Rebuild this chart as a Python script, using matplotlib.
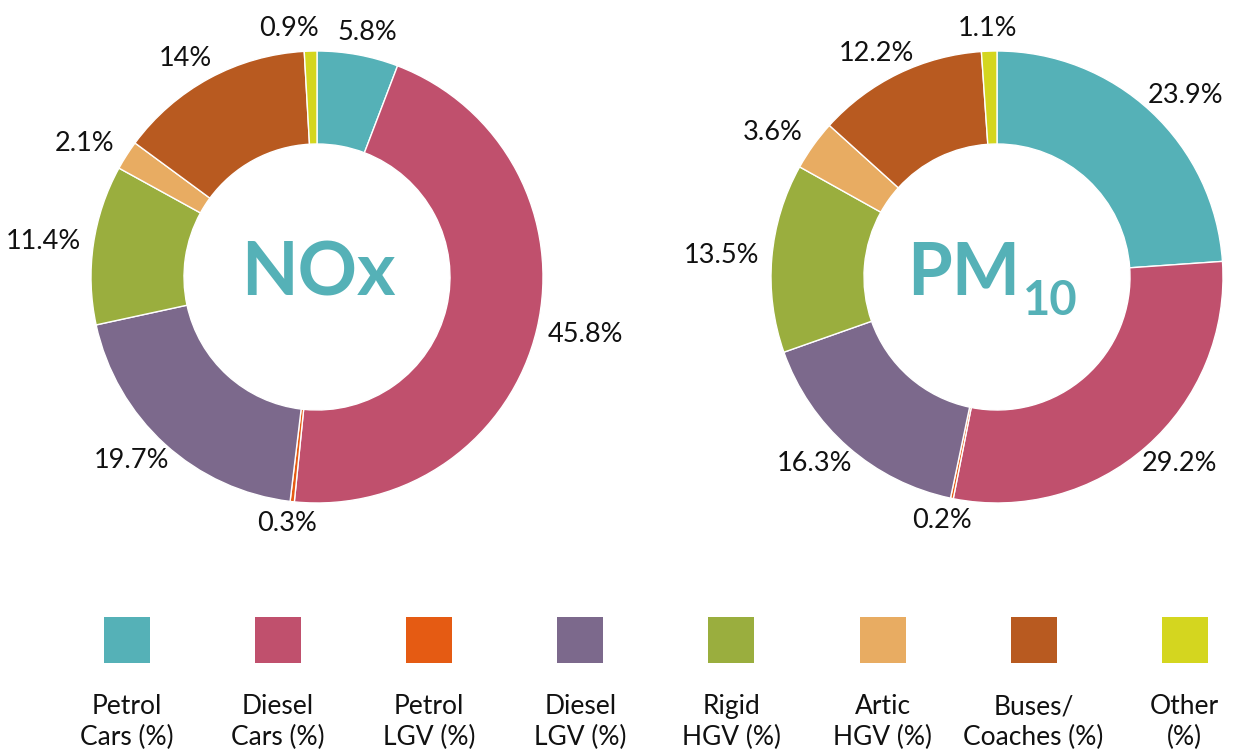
import numpy as np
import matplotlib
matplotlib.use("Agg")
import matplotlib.pyplot as plt
from matplotlib.patches import Rectangle

plt.rcParams['font.family'] = ['Lato', 'DejaVu Sans']

categories = ['Petrol\nCars (%)', 'Diesel\nCars (%)', 'Petrol\nLGV (%)', 'Diesel\nLGV (%)',
              'Rigid\nHGV (%)', 'Artic\nHGV (%)', 'Buses/\nCoaches (%)', 'Other\n(%)']
colors = ['#55B1B7', '#C0506D', '#E55B13', '#7C698C', '#9AAE3E', '#E8AC62', '#B85A20', '#D4D61F']
nox = [5.8, 45.8, 0.3, 19.7, 11.4, 2.1, 14, 0.9]
pm10 = [23.9, 29.2, 0.2, 16.3, 13.5, 3.6, 12.2, 1.1]

W, H = 1241, 753
fig = plt.figure(figsize=(W / 100, H / 100), dpi=100)
ax = fig.add_axes([0, 0, 1, 1])

R = 226
ring = 93


def donut(values, cx, cy):
    wedges, _ = ax.pie(values, colors=colors, startangle=90, counterclock=False,
                       radius=R, center=(cx, cy),
                       wedgeprops=dict(width=ring, edgecolor='white', linewidth=1))
    labels = []
    for w, v in zip(wedges, values):
        ang = np.deg2rad((w.theta1 + w.theta2) / 2)
        c, s = np.cos(ang), np.sin(ang)
        t = ax.annotate(f'{v:g}%', xy=(cx + 1.05 * R * c, cy + 1.05 * R * s),
                        xytext=(c * 28, s * 8), textcoords='offset points',
                        ha='center', va='center', fontsize=19.5, color='#111111')
        labels.append(t)
    return labels


ax.set_xlim(0, W)
ax.set_ylim(0, H)
ax.set_aspect('equal')

all_labels = [(donut(nox, 317, H - 277), nox), (donut(pm10, 997, H - 277), pm10)]

ax.set_xlim(0, W)
ax.set_ylim(0, H)
ax.set_aspect('equal')
ax.axis('off')

# push overlapping labels apart (move the smaller slice's label)
renderer = fig.canvas.get_renderer()
for labels, vals in all_labels:
    n = len(labels)
    for i in range(n):
        j = (i + 1) % n
        a, b = labels[i], labels[j]
        ba, bb = a.get_window_extent(renderer), b.get_window_extent(renderer)
        if ba.overlaps(bb):
            small, big = (a, b) if vals[i] < vals[j] else (b, a)
            bs, bg = small.get_window_extent(renderer), big.get_window_extent(renderer)
            if bs.x0 + bs.width / 2 < bg.x0 + bg.width / 2:
                shift = -(bs.x1 - bg.x0 + 18)
            else:
                shift = bg.x1 - bs.x0 + 18
            ox, oy = small.xyann
            small.xyann = (ox + shift * 72 / 100, oy)

teal = '#55B1B7'
ax.text(318, H - 274, 'NOx', ha='center', va='center', fontsize=53,
        fontweight='bold', color=teal)
pm = ax.text(964, H - 274, 'PM', ha='center', va='center', fontsize=52,
             fontweight='bold', color=teal)
ax.annotate('10', xy=(1.0, 0.0), xycoords=pm, xytext=(2, 5), textcoords='offset points',
            ha='left', va='center', fontsize=34, fontweight='bold', color=teal)

# legend row
xs = 127 + 151.1 * np.arange(len(categories))
for x, lab, col in zip(xs, categories, colors):
    ax.add_patch(Rectangle((x - 23, H - 663), 46, 46, color=col, lw=0))
    ax.text(x, H - 694, lab, ha='center', va='top', fontsize=19,
            linespacing=1.3, color='#111111')

fig.savefig('out.png', dpi=100, facecolor='white')
